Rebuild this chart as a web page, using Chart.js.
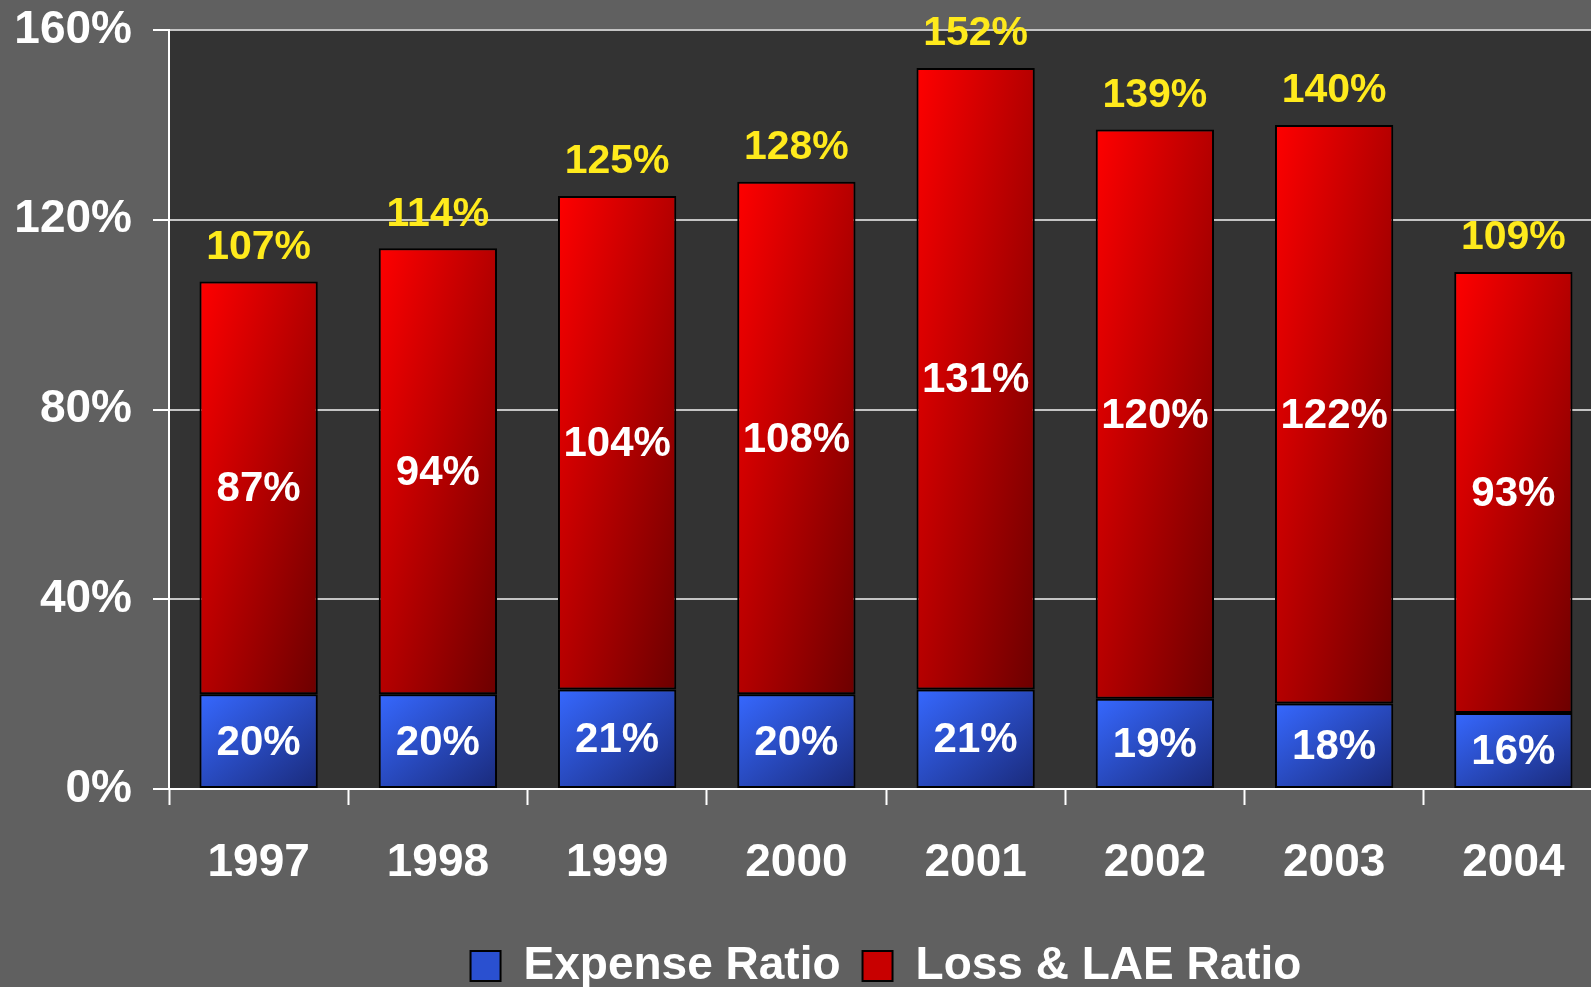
<!DOCTYPE html>
<html>
<head>
<meta charset="utf-8">
<script src="https://cdn.jsdelivr.net/npm/chart.js@4/dist/chart.umd.min.js"></script>
<style>
  html, body { margin: 0; padding: 0; background: #606060; overflow: hidden; }
  #wrap { position: absolute; left: 0; top: 0; width: 1620px; height: 1000px; }
</style>
</head>
<body>
<div id="wrap"><canvas id="ratioChart"></canvas></div>
<script>
// Combined ratio split into expense and loss & LAE, 1997–2004.
const years = ['1997', '1998', '1999', '2000', '2001', '2002', '2003', '2004'];
const expenseRatio = [20, 20, 21, 20, 21, 19, 18, 16];
const lossLaeRatio = [87, 94, 104, 108, 131, 120, 122, 93];
// Totals printed in yellow over each bar.
const combinedRatio = [107, 114, 125, 128, 152, 139, 140, 109];
const yTicks = [0, 40, 80, 120, 160];

const FONT = '"Liberation Sans", Arial, sans-serif';
const BAR_PCT = 0.66;

// Corner-to-corner shading: top-left light, bottom-right dark,
// the other two corners sit halfway.
function segmentFill(ctx, light, dark, isLoss) {
  const chart = ctx.chart;
  if (!chart.chartArea || ctx.dataIndex === undefined) return light;
  const xs = chart.scales.x, ys = chart.scales.y;
  const i = ctx.dataIndex;
  const cx = xs.getPixelForValue(i);
  const w = (xs.width / years.length) * BAR_PCT;
  const low = isLoss ? expenseRatio[i] : 0;
  const high = isLoss ? expenseRatio[i] + lossLaeRatio[i] : expenseRatio[i];
  const top = ys.getPixelForValue(high);
  const h = ys.getPixelForValue(low) - top;
  const left = cx - w / 2;
  const t = 2 * w * h / (w * w + h * h);
  const g = chart.ctx.createLinearGradient(left, top, left + t * h, top + t * w);
  g.addColorStop(0, light);
  g.addColorStop(1, dark);
  return g;
}

const plotBackground = {
  id: 'plotBackground',
  beforeDraw(chart) {
    const { ctx, chartArea: a } = chart;
    ctx.save();
    ctx.fillStyle = '#333333';
    ctx.fillRect(a.left, a.top, a.right - a.left, a.bottom - a.top);
    ctx.restore();
  }
};

// Segment values in white, totals in yellow above the stack.
const barLabels = {
  id: 'barLabels',
  afterDatasetsDraw(chart) {
    const ctx = chart.ctx;
    ctx.save();
    ctx.textAlign = 'center';
    ctx.textBaseline = 'middle';
    ctx.font = 'bold 42px ' + FONT;
    ctx.fillStyle = '#ffffff';
    chart.data.datasets.forEach((ds, di) => {
      chart.getDatasetMeta(di).data.forEach((bar, i) => {
        ctx.fillText(ds.data[i] + '%', bar.x, (bar.y + bar.base) / 2 + 2);
      });
    });
    ctx.font = 'bold 41px ' + FONT;
    ctx.fillStyle = '#ffea1c';
    chart.getDatasetMeta(1).data.forEach((bar, i) => {
      ctx.fillText(combinedRatio[i] + '%', bar.x, bar.y - 34);
    });
    ctx.restore();
  }
};

new Chart(document.getElementById('ratioChart').getContext('2d'), {
  type: 'bar',
  data: {
    labels: years,
    datasets: [
      {
        label: 'Expense Ratio',
        data: expenseRatio,
        backgroundColor: (c) => segmentFill(c, '#3668ff', '#1a2a7a', false),
        borderColor: '#000000',
        borderWidth: 2,
        borderSkipped: false,
        barPercentage: BAR_PCT,
        categoryPercentage: 1
      },
      {
        label: 'Loss & LAE Ratio',
        data: lossLaeRatio,
        backgroundColor: (c) => segmentFill(c, '#ff0000', '#6c0000', true),
        borderColor: '#000000',
        borderWidth: 2,
        borderSkipped: false,
        barPercentage: BAR_PCT,
        categoryPercentage: 1
      }
    ]
  },
  options: {
    responsive: true,
    maintainAspectRatio: false,
    animation: false,
    layout: { padding: { top: 30, right: 17, bottom: 1, left: 0 } },
    plugins: {
      tooltip: { enabled: false },
      legend: {
        position: 'bottom',
        fullSize: false,
        labels: {
          color: '#ffffff',
          font: { family: FONT, size: 46, weight: 'bold' },
          boxWidth: 30,
          boxHeight: 30,
          padding: 22,
          generateLabels: (chart) => chart.data.datasets.map((ds, i) => ({
            text: ds.label,
            fillStyle: i === 0 ? '#2a50d0' : '#c80000',
            strokeStyle: '#000000',
            lineWidth: 2,
            fontColor: '#ffffff',
            datasetIndex: i
          }))
        }
      }
    },
    scales: {
      x: {
        stacked: true,
        afterFit: (s) => { s.height = 132; },
        grid: {
          offset: true,
          drawOnChartArea: false,
          tickLength: 16,
          tickColor: '#ffffff',
          tickWidth: 2
        },
        border: { color: '#ffffff', width: 2 },
        ticks: {
          color: '#ffffff',
          padding: 31,
          font: { family: FONT, size: 46, weight: 'bold' }
        }
      },
      y: {
        stacked: true,
        min: 0,
        max: 160,
        afterFit: (s) => { s.width = 169; s.paddingTop = 0; s.paddingBottom = 0; },
        afterBuildTicks: (s) => { s.ticks = yTicks.map((v) => ({ value: v })); },
        grid: {
          color: '#c4c4c4',
          lineWidth: 2,
          tickLength: 16,
          tickColor: '#ffffff',
          tickWidth: 2
        },
        border: { color: '#ffffff', width: 2 },
        ticks: {
          color: '#ffffff',
          padding: 21,
          font: { family: FONT, size: 46, weight: 'bold' },
          callback: (v) => v + '%'
        }
      }
    }
  },
  plugins: [plotBackground, barLabels]
});
</script>
</body>
</html>
